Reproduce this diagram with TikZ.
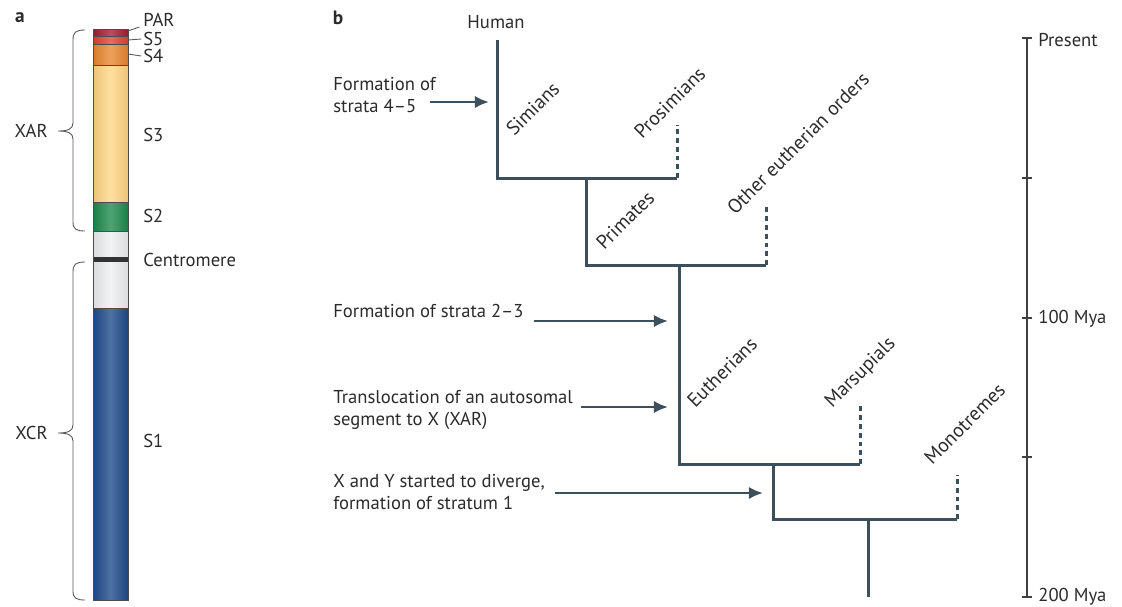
\documentclass[tikz,border=0pt]{standalone}
\usepackage{fontspec}
\setmainfont{PT Sans}
\usetikzlibrary{arrows.meta,calc}
\definecolor{treec}{HTML}{3D4F5B}
\definecolor{txtc}{HTML}{2B2B2B}
\definecolor{parc}{HTML}{A51E2B}
\definecolor{sfivec}{HTML}{E2403A}
\definecolor{sfourc}{HTML}{E8872F}
\definecolor{sthreec}{HTML}{FFD684}
\definecolor{stwoc}{HTML}{1C8A4C}
\definecolor{cenc}{HTML}{EDEFF0}
\definecolor{sonec}{HTML}{1E4A8B}
\newcommand{\xband}[3]{%
  \shade[left color=#3!92!black,right color=#3!92!black,middle color=#3!78!white] (93,#1) rectangle (128,#2);
  \draw[band] (93,#1) rectangle (128,#2);}

\begin{document}
\begin{tikzpicture}[x=0.02cm,y=-0.02cm,
  lbl/.style={font=\fontsize{10.6}{12.5}\selectfont,text=txtc,inner sep=0pt},
  tag/.style={lbl,anchor=west},
  tax/.style={lbl,font=\fontsize{11.2}{13}\selectfont,rotate=45,anchor=base west},
  evtxt/.style={lbl,anchor=north west,align=left},
  branch/.style={draw=treec,line width=1.7pt},
  lost/.style={draw=treec,line width=1.7pt,dash pattern=on 2.8pt off 2.2pt},
  evt/.style={draw=treec,line width=1.4pt,-{Latex[length=8pt,width=7pt]}},
  band/.style={draw=black!70,line width=0.4pt},
  brc/.style={draw=black!65,line width=0.5pt},
  tick/.style={draw=black!75,line width=0.6pt}]

\useasboundingbox (0,0) rectangle (1122,606);

% panel a
\node[lbl,font=\bfseries\fontsize{11}{13}\selectfont] (pa) at (20,18) {a};
\xband{65}{202}{sthreec}
\xband{44}{65}{sfourc}
\xband{36}{44}{sfivec}
\xband{29}{36}{parc}
\xband{202}{231}{stwoc}
\xband{231}{308}{cenc}
\xband{308}{600}{sonec}
\fill[black!80] (93,257) rectangle (128,262);
\draw[band] (93,29) rectangle (128,600);

\node[tag] (par) at (143,20) {PAR};
\node[tag] (s5) at (143,39) {S5};
\node[tag] (s4) at (143,56) {S4};
\node[tag] (s3) at (143,135) {S3};
\node[tag] (s2) at (143,216) {S2};
\node[tag] (cen) at (143,260) {Centromere};
\node[tag] (s1) at (143,441) {S1};
\coordinate (ePAR) at (128,31);
\coordinate (eS5) at (128,40);
\coordinate (eS4) at (128,54);
\draw[brc] (ePAR) -- ([xshift=-2pt]par.south west);
\draw[brc] (eS5) -- ([xshift=-1pt]s5.west);
\draw[brc] (eS4) -- ([xshift=-1pt]s4.west);

% braces
\node[lbl,anchor=east] (xar) at (48,131) {XAR};
\node[lbl,anchor=east] (xcr) at (48,433) {XCR};
\draw[brc] (85,30) .. controls (76,30) and (73,32) .. (73,40) -- (73,123)
  .. controls (73,129) and (68,131) .. (58,131)
  .. controls (68,131) and (73,133) .. (73,139) -- (73,222)
  .. controls (73,229) and (76,231) .. (85,231);
\draw[brc] (85,262) .. controls (76,262) and (73,264) .. (73,272) -- (73,425)
  .. controls (73,431) and (68,433) .. (58,433)
  .. controls (68,433) and (73,435) .. (73,441) -- (73,591)
  .. controls (73,598) and (76,600) .. (85,600);

% panel b: tree
\node[lbl,font=\bfseries\fontsize{11}{13}\selectfont] (pb) at (338,18) {b};
\node[lbl] (human) at (496,22) {Human};
\coordinate (hum) at (497,40);
\coordinate (n1) at (497,178);  \coordinate (pro) at (677,178);  \coordinate (proT) at (677,125);
\coordinate (j1) at (586,178);  \coordinate (n2) at (586,265);   \coordinate (oth) at (766,265);
\coordinate (othT) at (766,207);
\coordinate (j2) at (679,265);  \coordinate (n3) at (679,464);   \coordinate (mar) at (860,464);
\coordinate (marT) at (860,406);
\coordinate (j3) at (773,464);  \coordinate (n4) at (773,519);   \coordinate (mon) at (957,519);
\coordinate (monT) at (957,475);
\coordinate (j4) at (868,519);  \coordinate (root) at (868,597);

\draw[branch] (hum) -- (n1) -- (pro);
\draw[branch] (j1) -- (n2) -- (oth);
\draw[branch] (j2) -- (n3) -- (mar);
\draw[branch] (j3) -- (n4) -- (mon);
\draw[branch] (j4) -- (root);
\draw[lost] (pro) -- (proT);
\draw[lost] (oth) -- (othT);
\draw[lost] (mar) -- (marT);
\draw[lost] (mon) -- (monT);

\node[tax] (sim) at (514,137) {Simians};
\node[tax] (prs) at (642,140) {Prosimians};
\node[tax] (pri) at (604,251) {Primates};
\node[tax] (oeo) at (735,216) {Other eutherian orders};
\node[tax] (eut) at (695,409) {Eutherians};
\node[tax] (mrs) at (832,409) {Marsupials};
\node[tax] (mnt) at (932,466) {Monotremes};

% events
\node[evtxt] (e45) at (333,77) {Formation of\\strata 4--5};
\node[evtxt] (e23) at (333,304) {Formation of strata 2--3};
\node[evtxt] (etr) at (333,390) {Translocation of an autosomal\\segment to X (XAR)};
\node[evtxt] (exy) at (333,474) {X and Y started to diverge,\\formation of stratum 1};
\coordinate (a45) at (489,102);
\coordinate (a23) at (668,321);
\coordinate (atr) at (668,407);
\coordinate (axy) at (763,493);
\draw[evt] (e45.east |- a45) ++(-6,0) -- (a45);
\draw[evt] (e23.east |- a23) ++(10,0) -- (a23);
\draw[evt] (etr.east |- atr) ++(8,0) -- (atr);
\draw[evt] (exy.east |- axy) ++(10,0) -- (axy);

% time axis
\coordinate (tTop) at (1027,38);
\coordinate (tBot) at (1027,597);
\draw[tick] (tTop) -- (tBot);
\foreach \y in {38,178,318,457,597}
  \draw[tick] (1022,\y) -- (1032,\y);
\node[tag] (now) at (1038,40) {Present};
\node[tag] (m100) at (1038,319) {100 Mya};
\node[tag] (m200) at (1038,597) {200 Mya};
\end{tikzpicture}
\end{document}
